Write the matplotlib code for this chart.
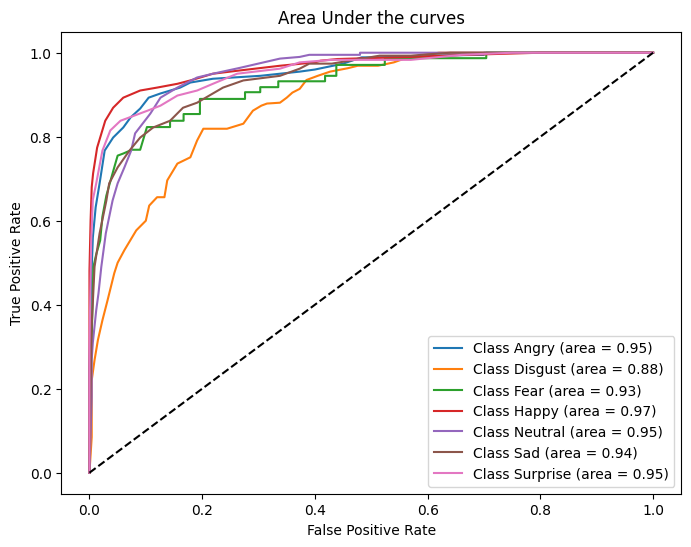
import matplotlib
matplotlib.use("Agg")
import matplotlib.pyplot as plt

# ROC points
fpr_angry = [0, 0, 0.003, 0.006, 0.011, 0.018, 0.027, 0.042, 0.060, 0.073, 0.090, 0.105, 0.126, 0.161, 0.179, 0.219, 0.303, 0.373, 0.40, 0.45, 0.483, 0.515, 0.60, 0.70, 0.70, 1.0]
tpr_angry = [0, 0.25, 0.45, 0.56, 0.632, 0.689, 0.767, 0.798, 0.822, 0.846, 0.867, 0.893, 0.903, 0.917, 0.929, 0.938, 0.945, 0.955, 0.96, 0.974, 0.989, 0.989, 0.993, 0.995, 1.0, 1.0]

fpr_disgust = [0, 0.004, 0.004, 0.009, 0.015, 0.023, 0.032, 0.044, 0.050, 0.062, 0.083, 0.100, 0.106, 0.120, 0.133, 0.138, 0.156, 0.179, 0.191, 0.202, 0.244, 0.273, 0.290, 0.305, 0.315, 0.338, 0.35, 0.36, 0.373, 0.385, 0.405, 0.427, 0.458, 0.476, 0.512, 0.54, 0.565, 0.62, 1.0]
tpr_disgust = [0, 0.085, 0.22, 0.268, 0.316, 0.363, 0.41, 0.475, 0.50, 0.53, 0.577, 0.60, 0.636, 0.656, 0.656, 0.696, 0.736, 0.751, 0.791, 0.819, 0.819, 0.831, 0.862, 0.874, 0.879, 0.881, 0.893, 0.905, 0.914, 0.935, 0.945, 0.955, 0.963, 0.969, 0.969, 0.977, 0.989, 1.0, 1.0]

fpr_fear = [0, 0.002, 0.005, 0.007, 0.012, 0.019, 0.023, 0.030, 0.044, 0.050, 0.060, 0.0755, 0.090, 0.102, 0.143, 0.143, 0.167, 0.167, 0.196, 0.196, 0.276, 0.276, 0.303, 0.303, 0.335, 0.335, 0.418, 0.418, 0.438, 0.438, 0.524, 0.524, 0.704, 0.704, 1.0]
tpr_fear = [0, 0.2, 0.38, 0.49, 0.52, 0.553, 0.61, 0.66, 0.727, 0.755, 0.760, 0.769, 0.769, 0.823, 0.823, 0.838, 0.838, 0.854, 0.854, 0.890, 0.890, 0.906, 0.906, 0.918, 0.918, 0.932, 0.932, 0.945, 0.945, 0.971, 0.971, 0.987, 0.987, 1.0, 1.0]

fpr_happy = [0, 0, 0.002, 0.004, 0.0065, 0.0136, 0.028, 0.042, 0.060, 0.090, 0.120, 0.156, 0.179, 0.219, 0.262, 0.338, 0.40, 0.41, 0.44, 0.57, 0.67, 0.80, 1.0]
tpr_happy = [0, 0.48, 0.6, 0.68, 0.713, 0.774, 0.838, 0.869, 0.893, 0.910, 0.917, 0.926, 0.934, 0.950, 0.957, 0.969, 0.977, 0.981, 0.985, 0.99, 0.995, 1.0, 1.0]

fpr_neutral = [0, 0.004, 0.004, 0.006, 0.012, 0.016, 0.021, 0.029, 0.041, 0.050, 0.062, 0.074, 0.081, 0.108, 0.126, 0.156, 0.191, 0.219, 0.267, 0.338, 0.373, 0.39, 0.48, 0.48, 1.0]
tpr_neutral = [0, 0.18, 0.27, 0.31, 0.387, 0.427, 0.49, 0.57, 0.648, 0.689, 0.727, 0.767, 0.808, 0.855, 0.893, 0.917, 0.941, 0.950, 0.964, 0.986, 0.990, 0.995, 0.995, 1.0, 1.0]

fpr_sad = [0, 0.002, 0.004, 0.009, 0.018, 0.030, 0.035, 0.050, 0.071, 0.090, 0.113, 0.143, 0.166, 0.191, 0.219, 0.237, 0.273, 0.338, 0.373, 0.39, 0.43, 0.47, 0.515, 0.57, 0.64, 1.0]
tpr_sad = [0, 0.2, 0.35, 0.49, 0.57, 0.648, 0.689, 0.727, 0.767, 0.798, 0.822, 0.838, 0.869, 0.881, 0.903, 0.917, 0.934, 0.945, 0.962, 0.974, 0.974, 0.983, 0.993, 0.993, 1.0, 1.0]

fpr_surprise = [0, 0, 0.003, 0.006, 0.012, 0.023, 0.037, 0.055, 0.103, 0.126, 0.156, 0.191, 0.219, 0.262, 0.338, 0.373, 0.43, 0.57, 0.66, 0.75, 1.0]
tpr_surprise = [0, 0.3, 0.55, 0.65, 0.689, 0.767, 0.815, 0.838, 0.862, 0.874, 0.898, 0.910, 0.926, 0.950, 0.962, 0.977, 0.983, 0.983, 0.995, 1.0, 1.0]

classes = ["Angry", "Disgust", "Fear", "Happy", "Neutral", "Sad", "Surprise"]
areas = [0.95, 0.88, 0.93, 0.97, 0.95, 0.94, 0.95]
curves = [(fpr_angry, tpr_angry), (fpr_disgust, tpr_disgust), (fpr_fear, tpr_fear),
          (fpr_happy, tpr_happy), (fpr_neutral, tpr_neutral), (fpr_sad, tpr_sad),
          (fpr_surprise, tpr_surprise)]

plt.figure(figsize=(8, 6))
for name, area, (fpr, tpr) in zip(classes, areas, curves):
    plt.plot(fpr, tpr, label="Class %s (area = %.2f)" % (name, area))
plt.plot([0, 1], [0, 1], 'k--')
plt.xlabel("False Positive Rate")
plt.ylabel("True Positive Rate")
plt.title("Area Under the curves")
plt.legend(loc="lower right")
plt.savefig("out.png", dpi=100, bbox_inches="tight")
